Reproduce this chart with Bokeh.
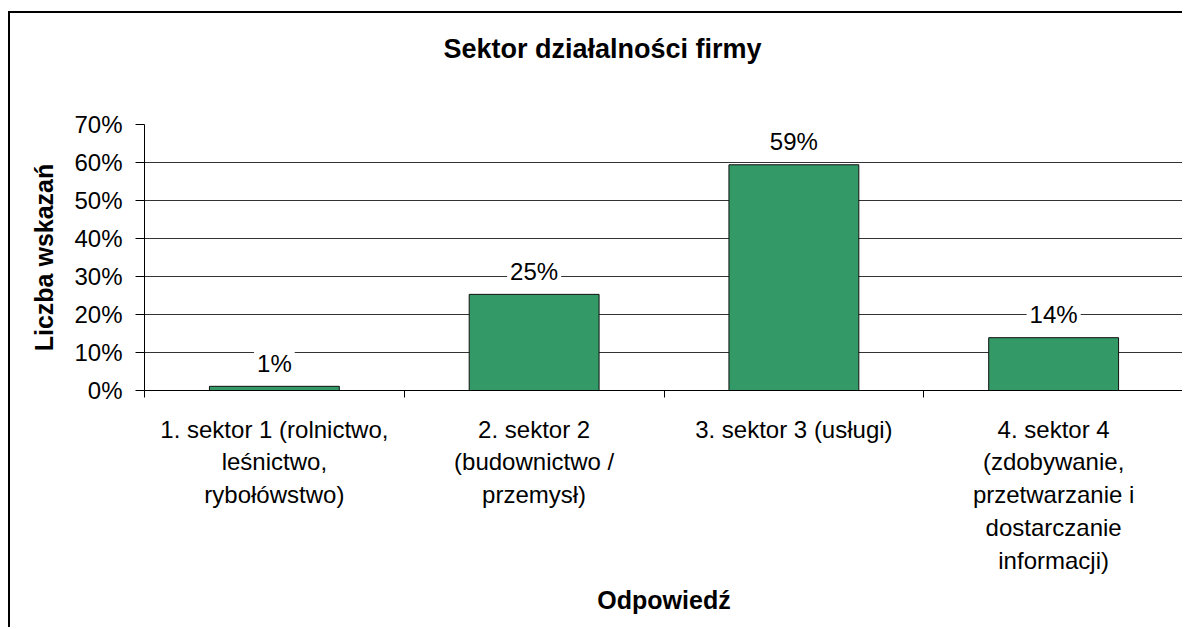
from bokeh.plotting import figure
from bokeh.models import (Range1d, FixedTicker, PrintfTickFormatter, Title,
                          ColumnDataSource, CustomJSTickFormatter)
from bokeh.core.properties import value
from bokeh.embed import file_html
from bokeh.resources import INLINE

# ---- data ----
title_text = "Sektor działalności firmy"
categories = [
    "1. sektor 1 (rolnictwo,\nleśnictwo,\nrybołówstwo)",
    "2. sektor 2\n(budownictwo /\nprzemysł)",
    "3. sektor 3 (usługi)",
    "4. sektor 4\n(zdobywanie,\nprzetwarzanie i\ndostarczanie\ninformacji)",
]
shares = [1.1, 25.3, 59.4, 13.9]          # percent of answers
y_ticks = [0, 10, 20, 30, 40, 50, 60, 70]
y_axis_title = "Liczba wskazań"
x_axis_title = "Odpowiedź"

FONT = "Liberation Sans"
W, H = 1174, 616

n = len(categories)
centers = [i + 0.5 for i in range(n)]
labels = [f"{round(s)}%" for s in shares]

p = figure(width=W, height=H, output_backend="svg", toolbar_location=None,
           x_range=Range1d(0, n), y_range=Range1d(y_ticks[0], y_ticks[-1]),
           min_border_left=134, min_border_top=111, min_border_right=1,
           min_border_bottom=239,
           background_fill_color="white", border_fill_color="white",
           styles={"border-left": "2px solid #000", "border-top": "2px solid #000",
                   "position": "relative", "left": "8px", "top": "11px"})
p.outline_line_color = None

src = ColumnDataSource(dict(x=centers, share=shares, label=labels))
p.vbar(x="x", top="share", width=0.5, source=src,
       fill_color="#339966", line_color="#111111", line_width=1)
p.text(x="x", y="share", text="label", source=src,
       text_font=value(FONT), text_font_size="24px", text_color="black",
       text_align="center", text_baseline="middle", y_offset=-23,
       background_fill_color="white", padding=3)

# grid
p.xgrid.visible = False
p.ygrid.ticker = FixedTicker(ticks=y_ticks)
p.ygrid.grid_line_color = "#333333"
p.ygrid.grid_line_width = 1

# x axis
xa = p.xaxis[0]
xa.ticker = FixedTicker(ticks=centers, minor_ticks=list(range(n + 1)))
xa.formatter = CustomJSTickFormatter(args=dict(labels=categories),
                                     code="return labels[Math.floor(tick)];")
xa.major_tick_out = 0
xa.major_tick_in = 0
xa.minor_tick_out = 7
xa.minor_tick_in = 0
xa.minor_tick_line_color = "black"
xa.axis_line_color = "black"
xa.major_label_standoff = 18
xa.major_label_text_font = FONT
xa.major_label_text_font_size = "24px"
xa.major_label_text_color = "black"
xa.major_label_text_line_height = 1.22
xa.axis_label = x_axis_title
xa.axis_label_text_font = FONT
xa.axis_label_text_font_size = "25px"
xa.axis_label_text_font_style = "bold"
xa.axis_label_text_color = "black"
xa.axis_label_standoff = 9

# y axis
ya = p.yaxis[0]
ya.ticker = FixedTicker(ticks=y_ticks, minor_ticks=[])
ya.formatter = PrintfTickFormatter(format="%d%%")
ya.major_tick_out = 9
ya.major_tick_in = 0
ya.minor_tick_out = 0
ya.major_tick_line_color = "black"
ya.axis_line_color = "black"
ya.major_label_standoff = 13
ya.major_label_text_font = FONT
ya.major_label_text_font_size = "24px"
ya.major_label_text_color = "black"
ya.axis_label = y_axis_title
ya.axis_label_text_font = FONT
ya.axis_label_text_font_size = "25px"
ya.axis_label_text_font_style = "bold"
ya.axis_label_text_color = "black"
ya.axis_label_standoff = 13

# chart title
p.title.text = title_text
p.title.text_font = FONT
p.title.text_font_size = "27px"
p.title.text_font_style = "bold"
p.title.text_color = "black"
p.title.align = "left"
p.title.offset = 299
p.title.vertical_align = "top"
p.title.standoff = 40
# empty spacer between the title and the plot area
p.add_layout(Title(text=" ", text_font_size="1px", standoff=36), "above")

open("out.html", "w").write(file_html(p, INLINE))
